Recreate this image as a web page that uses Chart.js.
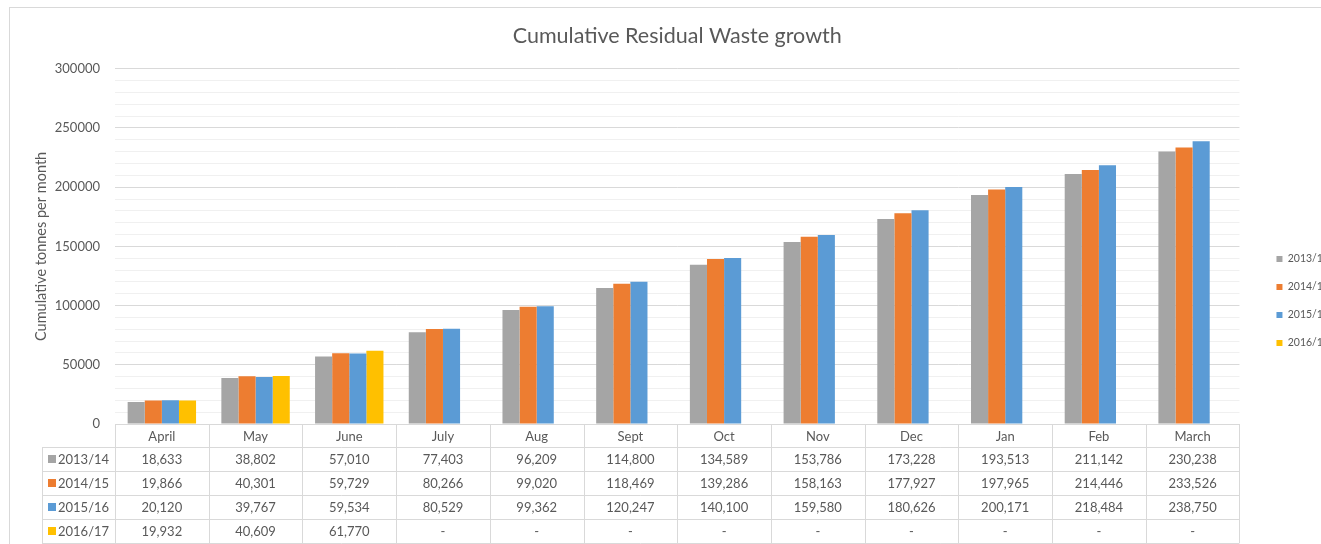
<!DOCTYPE html>
<html><head><meta charset="utf-8">
<script src="https://cdn.jsdelivr.net/npm/chart.js@4.4.0/dist/chart.umd.min.js"></script>
<style>
html,body{margin:0;padding:0;background:#fff;overflow:hidden;width:1321px;height:544px;}
#frame{position:absolute;left:9px;top:7px;width:1400px;height:600px;border:1px solid #d9d9d9;}
#wrap{position:absolute;left:0;top:0;}
</style></head><body>
<div id="frame"></div>
<div id="wrap"><canvas id="c" width="1339" height="602"></canvas></div>
<script>
const categories = ['April','May','June','July','Aug','Sept','Oct','Nov','Dec','Jan','Feb','March'];
const seriesNames = ['2013/14','2014/15','2015/16','2016/17'];
const s2013 = [18633,38802,57010,77403,96209,114800,134589,153786,173228,193513,211142,230238];
const s2014 = [19866,40301,59729,80266,99020,118469,139286,158163,177927,197965,214446,233526];
const s2015 = [20120,39767,59534,80529,99362,120247,140100,159580,180626,200171,218484,238750];
const s2016 = [19932,40609,61770,null,null,null,null,null,null,null,null,null];
const seriesColors = ['#a5a5a5','#ed7d31','#5b9bd5','#ffc000'];
const yMin = 0, yMax = 300000, yMajor = 50000, yMinor = 10000;

const TXT = '#595959';
const FONT = 'Lato';

const tablePlugin = {
  id: 'dataTable',
  afterDraw(chart) {
    const ctx = chart.ctx, xs = chart.scales.x, area = chart.chartArea;
    const n = categories.length;
    const colW = (area.right - area.left) / n;
    const top = Math.round(area.bottom);
    const headerH = 23, rowH = 24;
    const leftX = 42;
    const rows = [s2013, s2014, s2015, s2016];
    const bottom = top + headerH + rowH * rows.length;
    ctx.save();
    ctx.strokeStyle = '#d9d9d9';
    ctx.lineWidth = 1;
    ctx.beginPath();
    ctx.moveTo(area.left, top + 0.5); ctx.lineTo(area.right, top + 0.5);
    for (let r = 0; r <= rows.length; r++) {
      const y = top + headerH + rowH * r + 0.5;
      ctx.moveTo(leftX, y); ctx.lineTo(area.right, y);
    }
    for (let i = 0; i <= n; i++) {
      const cx = i < n ? xs.getPixelForValue(i) - colW / 2 : xs.getPixelForValue(n - 1) + colW / 2;
      const xx = Math.round(cx) + 0.5;
      ctx.moveTo(xx, top); ctx.lineTo(xx, bottom);
    }
    ctx.moveTo(leftX + 0.5, top + headerH); ctx.lineTo(leftX + 0.5, bottom);
    ctx.stroke();

    ctx.fillStyle = TXT;
    ctx.font = '13px ' + FONT;
    ctx.textAlign = 'center';
    ctx.textBaseline = 'middle';
    for (let i = 0; i < n; i++) {
      const cx = xs.getPixelForValue(i);
      ctx.fillText(categories[i], cx, top + headerH / 2 + 1);
      rows.forEach((arr, r) => {
        const v = arr[i];
        const t = v == null ? '-' : v.toLocaleString('en-US');
        ctx.fillText(t, cx, top + headerH + rowH * r + rowH / 2 + 1);
      });
    }
    ctx.textAlign = 'left';
    rows.forEach((arr, r) => {
      const cy = top + headerH + rowH * r + rowH / 2;
      ctx.fillStyle = seriesColors[r];
      ctx.fillRect(48, Math.round(cy - 4), 8, 8);
      ctx.fillStyle = TXT;
      ctx.fillText(seriesNames[r], 58, cy + 1);
    });
    ctx.restore();
  }
};

const datasets = [s2013, s2014, s2015, s2016].map((d, i) => ({
  label: seriesNames[i],
  data: d,
  backgroundColor: seriesColors[i],
  borderWidth: 0
}));

new Chart(document.getElementById('c'), {
  type: 'bar',
  data: { labels: categories, datasets },
  plugins: [tablePlugin],
  options: {
    responsive: false,
    animation: false,
    devicePixelRatio: 1,
    layout: { padding: { left: 29, right: 0, top: 0, bottom: 0 } },
    datasets: { bar: { barPercentage: 1, categoryPercentage: 0.73 } },
    plugins: {
      title: {
        display: true,
        fullSize: false,
        text: 'Cumulative Residual Waste growth',
        color: TXT,
        font: { family: FONT, size: 21.5, weight: 'normal' },
        padding: { top: 23, bottom: 20 }
      },
      legend: {
        position: 'right',
        labels: {
          boxWidth: 6, boxHeight: 6, padding: 17.5,
          color: TXT,
          font: { family: FONT, size: 10.5 }
        }
      },
      tooltip: { enabled: false }
    },
    scales: {
      x: {
        grid: { display: false },
        border: { display: false },
        ticks: { display: false },
        afterFit: s => { s.height = 178; }
      },
      y: {
        min: yMin, max: yMax,
        afterFit: s => { s.width = 86; },
        border: { display: false },
        grid: {
          drawTicks: false,
          color: c => (c.tick.value % yMajor === 0 ? '#d9d9d9' : '#f0f0f0')
        },
        ticks: {
          stepSize: yMinor,
          autoSkip: false,
          padding: 15,
          color: TXT,
          font: { family: FONT, size: 13 },
          callback: v => (v % yMajor === 0 ? String(v) : '')
        },
        title: {
          display: true,
          text: 'Cumulative tonnes per month',
          color: TXT,
          font: { family: FONT, size: 14.5 }
        }
      },
      gap: {
        position: 'right',
        min: yMin, max: yMax,
        grid: { display: false },
        border: { display: false },
        ticks: { display: false },
        afterFit: s => { s.width = 19.5; }
      }
    }
  }
});
</script>
</body></html>
